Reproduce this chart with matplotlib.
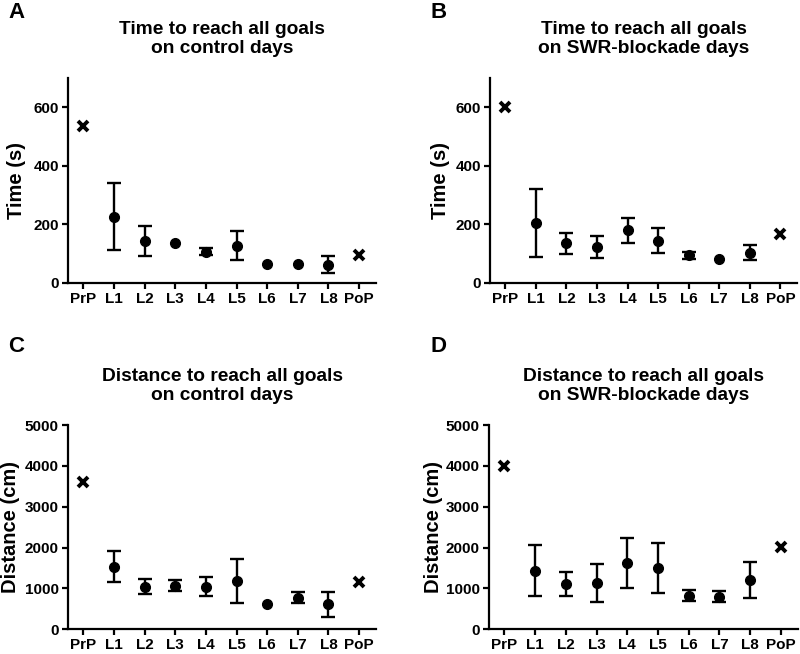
import numpy as np
import matplotlib
matplotlib.use('Agg')
import matplotlib.pyplot as plt

plt.rcParams['font.family'] = ['Liberation Sans', 'DejaVu Sans']
plt.rcParams['font.weight'] = 'bold'

# tick labels on the x axis
sessions = ['PrP', 'L1', 'L2', 'L3', 'L4', 'L5', 'L6', 'L7', 'L8', 'PoP']

# A: time, control days
time_ctrl_pre = 535
time_ctrl_post = 94
time_ctrl_mean = [225, 142, 134, 105, 126, 65, 63, 61]
time_ctrl_lo = [110, 90, 134, 94, 76, 65, 63, 31]
time_ctrl_hi = [340, 194, 134, 119, 175, 65, 63, 90]

# B: time, SWR-blockade days
time_swr_pre = 600
time_swr_post = 165
time_swr_mean = [205, 134, 120, 178, 143, 94, 80, 102]
time_swr_lo = [89, 99, 85, 136, 102, 79, 80, 77]
time_swr_hi = [321, 170, 158, 220, 186, 105, 80, 128]

# C: distance, control days
dist_ctrl_pre = 3611
dist_ctrl_post = 1144
dist_ctrl_mean = [1528, 1038, 1062, 1038, 1185, 613, 768, 605]
dist_ctrl_lo = [1144, 858, 923, 817, 645, 613, 629, 294]
dist_ctrl_hi = [1912, 1225, 1201, 1275, 1724, 613, 899, 907]

# D: distance, SWR-blockade days
dist_swr_pre = 3987
dist_swr_post = 2018
dist_swr_mean = [1430, 1095, 1119, 1609, 1487, 809, 792, 1201]
dist_swr_lo = [801, 809, 662, 1013, 874, 694, 670, 760]
dist_swr_hi = [2059, 1389, 1593, 2230, 2108, 948, 923, 1634]


def panel(ax, pre, post, mean, lo, hi, title, ylabel, ylim, yticks, labelx):
    x = np.arange(len(sessions))
    mean = np.array(mean, dtype=float)
    lo = np.array(lo, dtype=float)
    hi = np.array(hi, dtype=float)
    xl = x[1:-1]
    # points without a visible spread get no error bar
    has_err = hi > lo
    ax.errorbar(xl[has_err], mean[has_err],
                yerr=[mean[has_err] - lo[has_err], hi[has_err] - mean[has_err]],
                fmt='none', ecolor='black', elinewidth=1.7, capsize=5, capthick=1.7)
    ax.plot(xl, mean, 'o', color='black', ms=7)
    ax.plot([x[0], x[-1]], [pre, post], 'x', color='black', ms=6.5, mew=2.8)

    ax.set_xlim(-0.5, 9.55)
    ax.set_ylim(*ylim)
    ax.set_yticks(yticks)
    ax.set_xticks(x)
    ax.set_xticklabels(sessions)
    for s in ['top', 'right']:
        ax.spines[s].set_visible(False)
    for s in ['left', 'bottom']:
        ax.spines[s].set_linewidth(1.6)
    ax.tick_params(width=1.6, length=4.5, pad=2, labelsize=11)
    ax.set_ylabel(ylabel, fontsize=14.5, fontweight='bold')
    ax.yaxis.set_label_coords(labelx, 0.5)
    ax.set_title(title, fontsize=13.8, fontweight='bold', pad=18, linespacing=1.15)


fig = plt.figure(figsize=(8, 6.54), dpi=100)
axA = fig.add_axes([0.085, 0.568, 0.385, 0.313])
axB = fig.add_axes([0.6125, 0.568, 0.384, 0.313])
axC = fig.add_axes([0.085, 0.038, 0.385, 0.312])
axD = fig.add_axes([0.6112, 0.038, 0.386, 0.312])

panel(axA, time_ctrl_pre, time_ctrl_post, time_ctrl_mean, time_ctrl_lo, time_ctrl_hi,
      'Time to reach all goals\non control days', 'Time (s)', (0, 700), [0, 200, 400, 600], -0.135)
panel(axB, time_swr_pre, time_swr_post, time_swr_mean, time_swr_lo, time_swr_hi,
      'Time to reach all goals\non SWR-blockade days', 'Time (s)', (0, 700), [0, 200, 400, 600], -0.13)
panel(axC, dist_ctrl_pre, dist_ctrl_post, dist_ctrl_mean, dist_ctrl_lo, dist_ctrl_hi,
      'Distance to reach all goals\non control days', 'Distance (cm)', (0, 5000),
      [0, 1000, 2000, 3000, 4000, 5000], -0.155)
panel(axD, dist_swr_pre, dist_swr_post, dist_swr_mean, dist_swr_lo, dist_swr_hi,
      'Distance to reach all goals\non SWR-blockade days', 'Distance (cm)', (0, 5000),
      [0, 1000, 2000, 3000, 4000, 5000], -0.15)

for letter, (lx, ly) in zip('ABCD', [(8, 12), (431, 12), (8, 347), (431, 347)]):
    fig.text(lx / 800, 1 - ly / 654, letter, fontsize=16, fontweight='bold', va='center', ha='left')

plt.savefig('out.png', dpi=100)
